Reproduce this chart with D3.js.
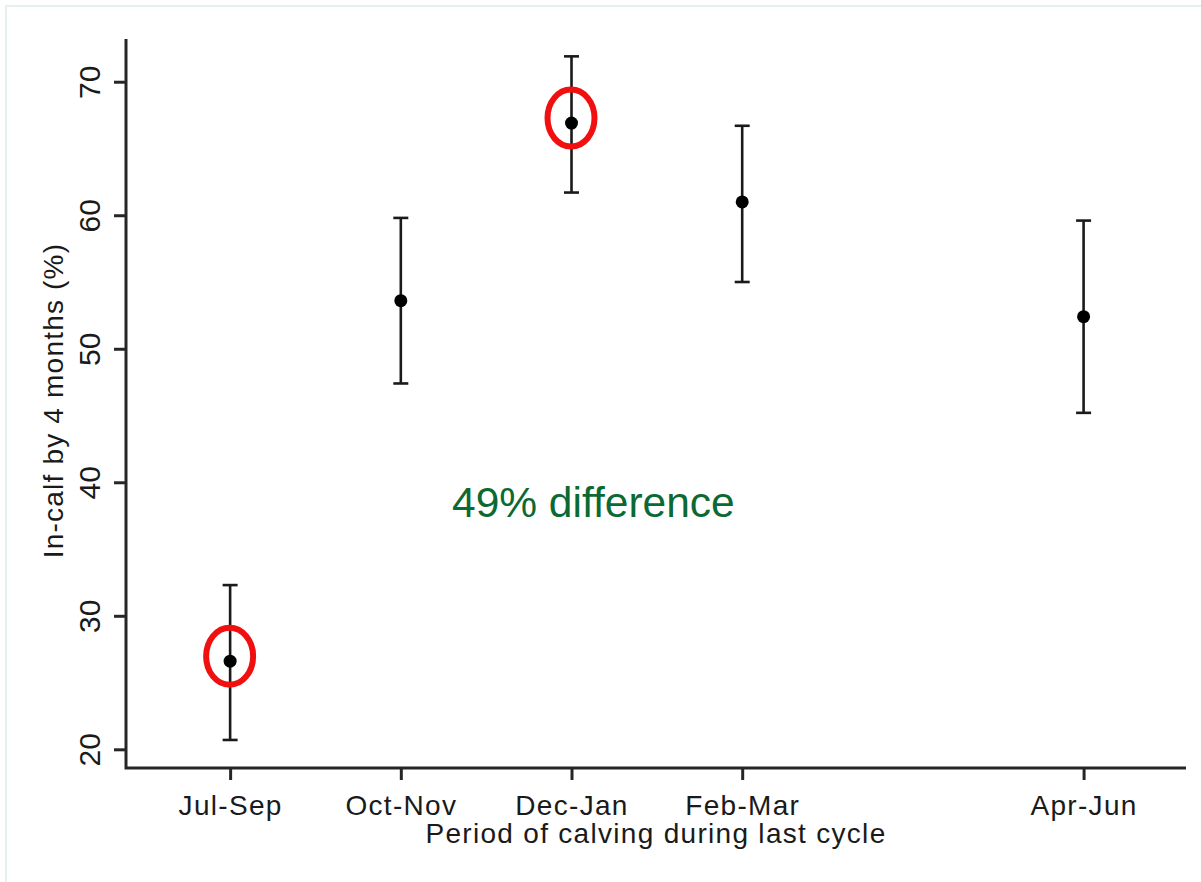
<!DOCTYPE html>
<html>
<head>
<meta charset="utf-8">
<script src="https://cdn.jsdelivr.net/npm/d3@7"></script>
<style>
  body { margin: 0; background: #fff; }
  svg { display: block; }
  text { font-family: Arial, "Liberation Sans", sans-serif; fill: #1a1a1a; }
</style>
</head>
<body>
<div class="main"></div>
<script>
// Data
const periods   = ["Jul-Sep", "Oct-Nov", "Dec-Jan", "Feb-Mar", "Apr-Jun"];
const periodPos = [0, 1, 2, 3, 5];          // slot on the x axis
const meanPct   = [26.6, 53.6, 66.9, 61.0, 52.4];
const lowerPct  = [20.7, 47.4, 61.7, 55.0, 45.2];
const upperPct  = [32.3, 59.8, 71.9, 66.7, 59.6];
const yTicks    = [20, 30, 40, 50, 60, 70];
const circled   = ["Jul-Sep", "Dec-Jan"];   // highlighted in red
const note      = "49% difference";

const rows = periods.map(function(p, i) {
  return { period: p, pos: periodPos[i], mean: meanPct[i], lo: lowerPct[i], hi: upperPct[i] };
});

// Visualisation setup
const W = 1201, H = 882;
const plot = { left: 126, right: 1186, top: 39, bottom: 768 };

let xScale = d3.scaleLinear().domain([-0.61, 5.6]).range([plot.left, plot.right]);
let yScale = d3.scaleLinear().domain([18.6, 73.2]).range([plot.bottom, plot.top]);

let svg = d3.select('.main').append('svg')
    .attr("width", W)
    .attr("height", H);

// faint frame at the top-left of the picture
svg.append("rect")
    .attr("x", 6).attr("y", 6)
    .attr("width", W).attr("height", H)
    .attr("fill", "none")
    .attr("stroke", "#e7eeee")
    .attr("stroke-width", 2);

// Y axis
let yAxis = d3.axisLeft(yScale).tickValues(yTicks).tickSize(12).tickSizeOuter(0);
let yG = svg.append("g")
    .attr("transform", "translate(" + plot.left + ",0)")
    .call(yAxis);
yG.select(".domain").remove();
yG.selectAll(".tick line").attr("stroke", "#262626").attr("stroke-width", 3);
yG.selectAll(".tick text")
    .attr("transform", "rotate(-90)")
    .attr("x", 0).attr("y", -26).attr("dy", 0)
    .attr("text-anchor", "middle")
    .style("font-size", "30px")
    .style("font-family", "Arial, 'Liberation Sans', sans-serif")
    .attr("fill", "#1a1a1a");

// X axis
let xAxis = d3.axisBottom(xScale).tickValues(periodPos)
    .tickFormat(function(d) { return periods[periodPos.indexOf(d)]; })
    .tickSize(12).tickSizeOuter(0);
let xG = svg.append("g")
    .attr("transform", "translate(0," + plot.bottom + ")")
    .call(xAxis);
xG.select(".domain").remove();
xG.selectAll(".tick line").attr("stroke", "#262626").attr("stroke-width", 3);
xG.selectAll(".tick text")
    .attr("y", 47).attr("dy", 0)
    .style("font-size", "28px")
    .style("letter-spacing", "1.3px")
    .style("font-family", "Arial, 'Liberation Sans', sans-serif")
    .attr("fill", "#1a1a1a");

// axis lines (L shape)
svg.append("path")
    .attr("d", "M" + plot.left + "," + plot.top + "V" + plot.bottom + "H" + plot.right)
    .attr("fill", "none")
    .attr("stroke", "#262626")
    .attr("stroke-width", 3);

// axis titles
svg.append("text")
    .attr("transform", "translate(63," + ((plot.top + plot.bottom) / 2 - 3) + ") rotate(-90)")
    .attr("text-anchor", "middle")
    .style("font-size", "28px")
    .style("letter-spacing", "1.2px")
    .text("In-calf by 4 months (%)");

svg.append("text")
    .attr("x", (plot.left + plot.right) / 2)
    .attr("y", 843)
    .attr("text-anchor", "middle")
    .style("font-size", "28px")
    .style("letter-spacing", "1.3px")
    .text("Period of calving during last cycle");

// error bars
let bars = svg.append("g").selectAll("g").data(rows).enter().append("g")
    .attr("stroke", "#1a1a1a")
    .attr("stroke-width", 2.6);
bars.append("line")
    .attr("x1", function(d) { return xScale(d.pos); })
    .attr("x2", function(d) { return xScale(d.pos); })
    .attr("y1", function(d) { return yScale(d.lo); })
    .attr("y2", function(d) { return yScale(d.hi); });
bars.append("line")
    .attr("x1", function(d) { return xScale(d.pos) - 7.5; })
    .attr("x2", function(d) { return xScale(d.pos) + 7.5; })
    .attr("y1", function(d) { return yScale(d.hi); })
    .attr("y2", function(d) { return yScale(d.hi); });
bars.append("line")
    .attr("x1", function(d) { return xScale(d.pos) - 7.5; })
    .attr("x2", function(d) { return xScale(d.pos) + 7.5; })
    .attr("y1", function(d) { return yScale(d.lo); })
    .attr("y2", function(d) { return yScale(d.lo); });

// means
svg.append("g").selectAll("circle").data(rows).enter().append("circle")
    .attr("cx", function(d) { return xScale(d.pos); })
    .attr("cy", function(d) { return yScale(d.mean); })
    .attr("r", 6.5)
    .attr("fill", "#000");

// red rings round the lowest and highest
svg.append("g").selectAll("ellipse")
    .data(rows.filter(function(d) { return circled.indexOf(d.period) >= 0; }))
    .enter().append("ellipse")
    .attr("cx", function(d) { return xScale(d.pos) - 0.5; })
    .attr("cy", function(d) { return yScale(d.mean) - 5; })
    .attr("rx", 23.5)
    .attr("ry", 28.5)
    .attr("fill", "none")
    .attr("stroke", "#f01010")
    .attr("stroke-width", 6);

// annotation
svg.append("text")
    .attr("x", 452)
    .attr("y", 517)
    .style("font-size", "42.5px")
    .style("fill", "#0b6a33")
    .text(note);
</script>
</body>
</html>
